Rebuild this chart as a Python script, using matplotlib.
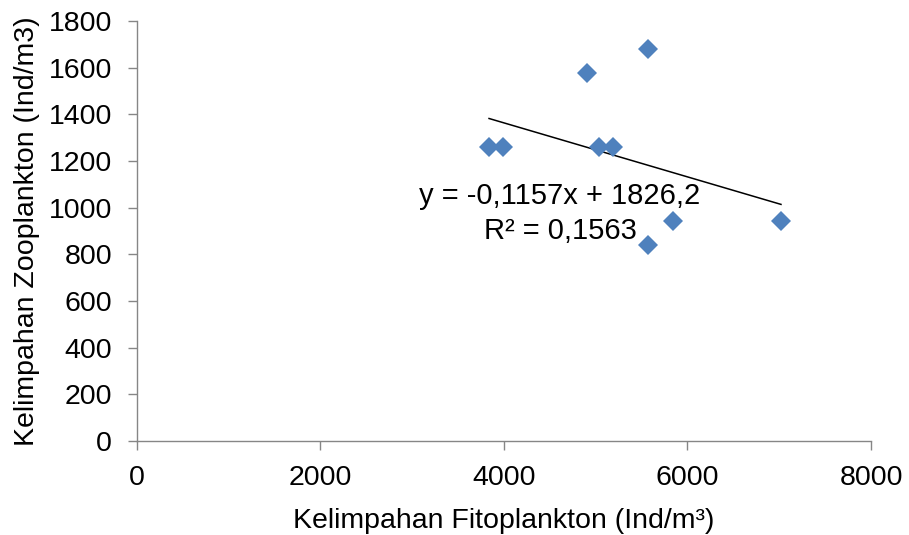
import matplotlib

matplotlib.use("Agg")

import matplotlib.pyplot as plt
import numpy as np

# fitoplankton vs zooplankton abundance (Ind/m3)
fito = [3837, 3989, 4905, 5035, 5188, 5569, 5569, 5842, 7019]
zoo = [1260, 1260, 1577, 1260, 1260, 1680, 840, 943, 943]

# trendline reported in the chart
SLOPE = -0.1157
INTERCEPT = 1826.2
R2 = 0.1563

x_ticks = [0, 2000, 4000, 6000, 8000]
y_ticks = [0, 200, 400, 600, 800, 1000, 1200, 1400, 1600, 1800]

plt.rcParams["font.family"] = ["Liberation Sans", "DejaVu Sans"]
FS = 20.5
AXIS_GREY = "#868686"
MARKER_BLUE = "#4F81BD"

fig = plt.figure(figsize=(9.09, 5.35), dpi=100)
ax = fig.add_axes([0.1507, 0.1757, 0.8075, 0.785])

ax.plot(fito, zoo, linestyle="none", marker="D", markersize=10.5,
        color=MARKER_BLUE, markeredgewidth=0, zorder=3)

xs = np.array([min(fito), max(fito)], dtype=float)
ax.plot(xs, SLOPE * xs + INTERCEPT, color="black", linewidth=1.1, zorder=2)

eq = f"y = {SLOPE:.4f}x + {INTERCEPT:.1f}".replace(".", ",")
r2 = f"R² = {R2:.4f}".replace(".", ",")
ax.text(4610, 975, eq + "\n" + r2, ha="center", va="center",
        multialignment="center", fontsize=21, linespacing=1.35, zorder=4)

ax.set_xlim(0, 8000)
ax.set_ylim(0, 1800)
ax.set_xticks(x_ticks)
ax.set_yticks(y_ticks)
ax.tick_params(axis="both", labelsize=FS, color=AXIS_GREY, length=6.5, width=1)
ax.tick_params(axis="x", pad=10.5)
ax.tick_params(axis="y", pad=11.5)

for side in ("top", "right"):
    ax.spines[side].set_visible(False)
for side in ("left", "bottom"):
    ax.spines[side].set_color(AXIS_GREY)
    ax.spines[side].set_linewidth(1)

ax.set_xlabel("Kelimpahan Fitoplankton (Ind/m³)", fontsize=FS, labelpad=12.5)
ax.set_ylabel("Kelimpahan Zooplankton (Ind/m3)", fontsize=FS, labelpad=6)

fig.savefig("out.png", dpi=100)
